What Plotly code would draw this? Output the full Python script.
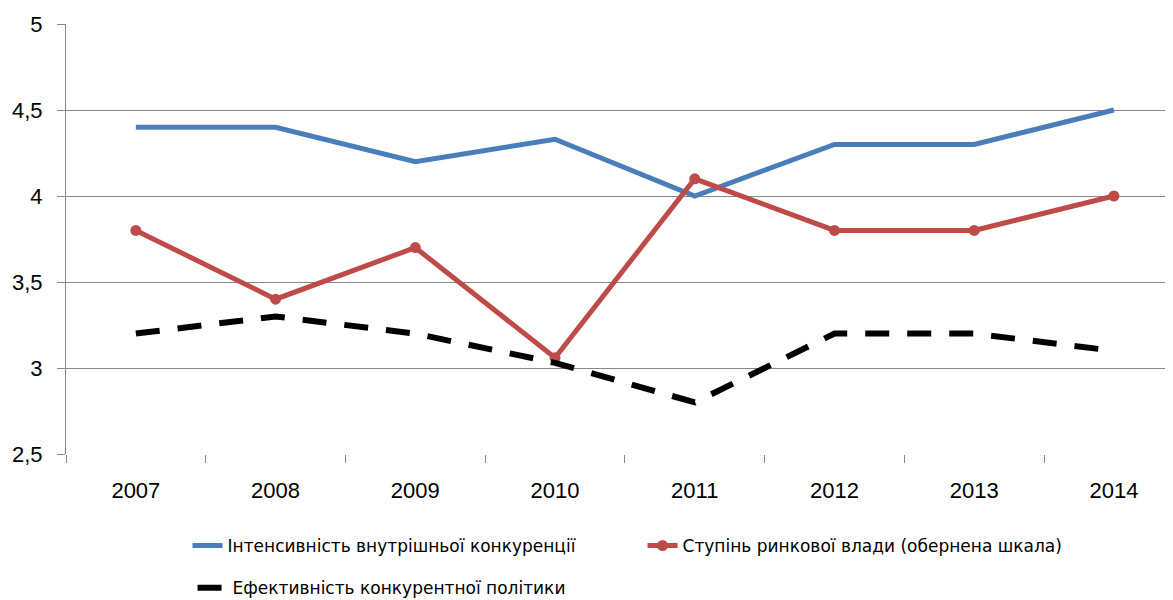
import plotly.graph_objects as go

years = ["2007", "2008", "2009", "2010", "2011", "2012", "2013", "2014"]

intensity = [4.4, 4.4, 4.2, 4.33, 4.0, 4.3, 4.3, 4.5]
market_power = [3.8, 3.4, 3.7, 3.06, 4.1, 3.8, 3.8, 4.0]
policy_eff = [3.2, 3.3, 3.2, 3.03, 2.8, 3.2, 3.2, 3.1]

names = [
    "Інтенсивність внутрішньої конкуренції",
    "Ступінь ринкової влади (обернена шкала)",
    "Ефективність конкурентної політики",
]

y_ticks = [2.5, 3, 3.5, 4, 4.5, 5]

fig = go.Figure()
fig.add_trace(go.Scatter(
    x=years, y=intensity, name=names[0], mode="lines",
    line=dict(color="#4a7ebb", width=5), legend="legend",
))
fig.add_trace(go.Scatter(
    x=years, y=market_power, name=names[1], mode="lines+markers",
    line=dict(color="#be4b48", width=5),
    marker=dict(color="#be4b48", size=11), legend="legend",
))
fig.add_trace(go.Scatter(
    x=years, y=policy_eff, name=names[2], mode="lines",
    line=dict(color="black", width=6, dash="24px,18px"), legend="legend2",
))

leg_font = dict(size=17, family="DejaVu Sans", color="black")

# page body has an 8px margin, so the margins here are 8px smaller
fig.update_layout(
    width=1173, height=600,
    margin=dict(l=58, r=0, t=16, b=154, autoexpand=False),
    paper_bgcolor="white", plot_bgcolor="white",
    separators=", ",
    font=dict(family="Liberation Sans", color="black"),
    legend=dict(
        orientation="h", x=0.109, y=-0.172, xanchor="left", yanchor="top",
        entrywidth=410, entrywidthmode="pixels", font=leg_font,
    ),
    legend2=dict(
        orientation="h", x=0.1135, y=-0.27, xanchor="left", yanchor="top",
        font=leg_font,
    ),
    showlegend=True,
)
fig.update_xaxes(
    type="category", range=[-0.5, 7.48], automargin=False,
    showgrid=False, showline=False,
    ticks="outside", tickson="boundaries", ticklen=8, tickcolor="#888888",
    tickfont=dict(size=22), ticklabelstandoff=21,
)
fig.update_yaxes(
    range=[2.5, 5], tickvals=y_ticks, automargin=False,
    showgrid=True, gridcolor="#888888", gridwidth=1,
    showline=True, linecolor="#888888", linewidth=1,
    ticks="outside", ticklen=8, tickcolor="#888888",
    tickfont=dict(size=22), ticklabelstandoff=10, zeroline=False,
)

fig.write_html("out.html")
